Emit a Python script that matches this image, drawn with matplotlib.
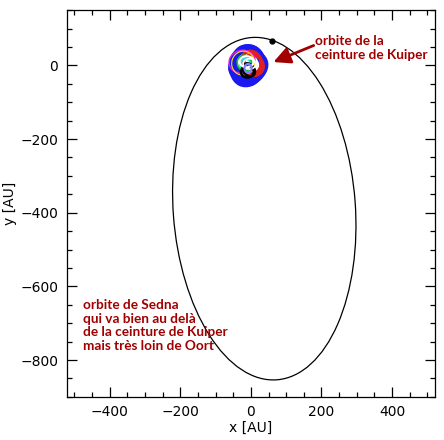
import matplotlib
matplotlib.use("Agg")
import matplotlib.pyplot as plt
from matplotlib.patches import Ellipse
from matplotlib.ticker import MultipleLocator

# Sedna orbit (ellipse patch parameters, AU)
sedna_center = (38, -389)
sedna_width = 516
sedna_height = 932
sedna_angle = 4.5
sedna_pos_x = [60]
sedna_pos_y = [66]

# Kuiper belt object orbits (center x, center y, width, height, angle, colour, linewidth)
kbo_cx = [-8, -5, -10, -7, -9, -6, -11, -8, -7, -9, -2, -12,
          2, 5, 0, 4,
          -25, -22,
          -14, -18,
          -10, -6,
          -12, -4,
          -8]
kbo_cy = [3, 0, 5, -2, 4, 1, -1, 6, 2, -3, 8, -6,
          5, 0, 8, 2,
          10, 6,
          2, 6,
          -18, -12,
          10, 4,
          -8]
kbo_w = [92, 84, 96, 80, 88, 78, 98, 82, 86, 90, 76, 94,
         58, 54, 62, 50,
         74, 66,
         30, 40,
         36, 30,
         40, 28,
         20]
kbo_h = [100, 94, 86, 104, 82, 92, 80, 96, 88, 106, 98, 84,
         68, 62, 56, 60,
         62, 64,
         34, 44,
         30, 40,
         30, 36,
         24]
kbo_ang = [0, 30, 60, 100, 140, 170, 20, 80, 120, 155, 45, 110,
           20, 70, 120, 160,
           10, 50,
           0, 30,
           0, 45,
           0, 90,
           0]
kbo_col = ["#1a1af0"] * 12 + ["#e02020"] * 4 + ["#e020e0", "#ffe000"] + \
          ["#20e0e0", "#20c020"] + ["black", "black"] + ["white", "white"] + ["#8080ff"]
kbo_lw = [2.6] * 12 + [2.2] * 4 + [1.0, 0.8] + [2.0, 1.2] + [1.8, 1.8] + [1.5, 1.2] + [1.5]

xticks = [-400, -200, 0, 200, 400]
yticks = [0, -200, -400, -600, -800]

label_color = "#a00000"
kuiper_text = "orbite de la\nceinture de Kuiper"
sedna_text = "orbite de Sedna\nqui va bien au delà\nde la ceinture de Kuiper\nmais très loin de Oort"

fig = plt.figure(figsize=(4.44, 4.40), dpi=100)
ax = fig.add_axes([0.150, 0.098, 0.830, 0.879])

for cx, cy, w, h, a, c, lw in zip(kbo_cx, kbo_cy, kbo_w, kbo_h, kbo_ang, kbo_col, kbo_lw):
    ax.add_patch(Ellipse((cx, cy), w, h, angle=a, fill=False, edgecolor=c, lw=lw, zorder=2))

ax.add_patch(Ellipse(sedna_center, sedna_width, sedna_height, angle=sedna_angle,
                     fill=False, edgecolor="black", lw=0.9, zorder=3))
ax.plot(sedna_pos_x, sedna_pos_y, "o", color="black", ms=3.5, zorder=4)

ax.set_xlim(-522, 522)
ax.set_ylim(-900, 150)
ax.set_xticks(xticks)
ax.set_yticks(yticks)
ax.xaxis.set_minor_locator(MultipleLocator(50))
ax.yaxis.set_minor_locator(MultipleLocator(50))
ax.tick_params(which="both", direction="in", top=True, right=True, labelsize=10, pad=6)
ax.tick_params(which="major", length=7, width=0.9)
ax.tick_params(which="minor", length=3.5, width=0.9)
for s in ax.spines.values():
    s.set_linewidth(0.9)
ax.set_xlabel("x [AU]", fontsize=10, labelpad=1)
ax.set_ylabel("y [AU]", fontsize=10, labelpad=2)

font = dict(family=["Lato", "DejaVu Sans"], fontweight="bold", color=label_color, fontsize=9.8)
ax.text(182, 47, kuiper_text, ha="left", va="center", linespacing=1.15, **font)
ax.annotate("", xy=(64, 9), xytext=(178, 54),
            arrowprops=dict(arrowstyle="-|>,head_length=1.0,head_width=0.5",
                            color=label_color, lw=2.0, shrinkA=0, shrinkB=0))
ax.text(-476, -706, sedna_text, ha="left", va="center", linespacing=1.15, **font)

fig.savefig("out.png", dpi=100)
